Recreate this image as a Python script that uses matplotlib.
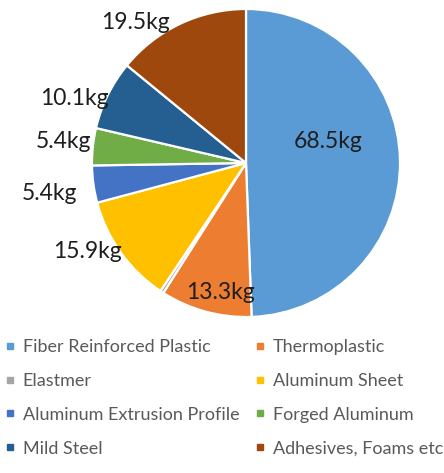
import matplotlib
matplotlib.use("Agg")
import numpy as np
import matplotlib.pyplot as plt
from matplotlib.lines import Line2D

plt.rcParams['font.family'] = ['Lato', 'DejaVu Sans']

# material weights [kg]
materials = ["Fiber Reinforced Plastic", "Thermoplastic", "Elastmer",
             "Aluminum Sheet", "Aluminum Extrusion Profile", "Forged Aluminum",
             "Mild Steel", "Adhesives, Foams etc"]
weights = [68.5, 13.3, 0.5, 15.9, 5.4, 5.4, 10.1, 19.5]
show_label = [True, True, False, True, True, True, True, True]
colors = ["#5B9BD5", "#ED7D31", "#A5A5A5", "#FFC000",
          "#4472C4", "#70AD47", "#255E91", "#9E480E"]

# label placement: radius (pie units) and angle shift from wedge middle
lab_r = [0.55, 0.855, 1.0, 1.18, 1.29, 1.19, 1.19, 1.16]
lab_dt = [13.4, 3.8, 0.0, -6.4, 0.8, -0.5, 5.5, 13.0]

W, H = 444, 473
fig = plt.figure(figsize=(W/100, H/100), dpi=100)

# pie centred at (246,163) px with radius 154 px
cx, cy, R = 246, 163, 154
ax = fig.add_axes([(cx-R)/W, 1-(cy+R)/H, 2*R/W, 2*R/H])
wedges, _ = ax.pie(weights, colors=colors, startangle=90, counterclock=False,
                   radius=1.0, wedgeprops=dict(edgecolor="white", linewidth=1.6))
ax.set_xlim(-1, 1)
ax.set_ylim(-1, 1)
ax.set_aspect("auto")
ax.axis("off")

for w, val, show, r, dt in zip(wedges, weights, show_label, lab_r, lab_dt):
    if not show:
        continue
    mid = np.deg2rad((w.theta1 + w.theta2) / 2 + dt)
    ax.text(r*np.cos(mid), r*np.sin(mid), f"{val}kg", ha="center", va="center",
            fontsize=16.5, color="#1e1e1e", clip_on=False)

# legend, row-major order across two columns
order = [0, 2, 4, 6, 1, 3, 5, 7]
handles = [Line2D([], [], marker="s", linestyle="", markersize=5,
                  color=colors[i], label=materials[i]) for i in order]
fig.legend(handles=handles, ncol=2, loc="upper left",
           bbox_to_anchor=(0.0, 1-334/H), frameon=False, fontsize=13,
           labelcolor="#595959", handlelength=0.5, handletextpad=0.45,
           labelspacing=0.98, columnspacing=0.9, borderaxespad=0.0,
           borderpad=0.3)

fig.savefig("out.png", dpi=100)
